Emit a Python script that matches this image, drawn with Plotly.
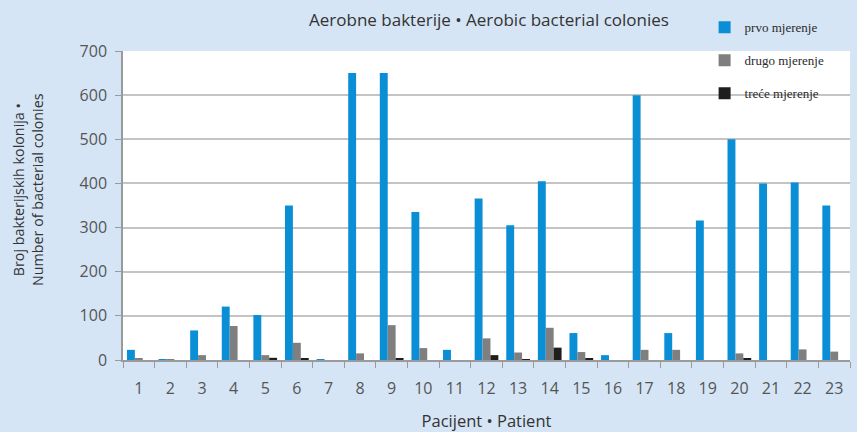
import plotly.graph_objects as go

patients = [str(i) for i in range(1, 24)]
prvo = [23, 2, 67, 121, 102, 350, 2, 650, 650, 335, 23, 366, 305, 405, 61, 11, 600, 61, 316, 500, 400, 402, 350]
drugo = [4, 2, 11, 77, 11, 39, 0, 15, 79, 27, 0, 49, 17, 73, 18, 0, 23, 23, 0, 15, 0, 24, 19]
trece = [0, 0, 0, 0, 5, 3, 0, 0, 4, 0, 0, 11, 2, 28, 4, 0, 0, 0, 0, 3, 0, 0, 0]

series_names = ["prvo mjerenje", "drugo mjerenje", "treće mjerenje"]
colors = ["#0a8ed6", "#7f7f7f", "#1e1e1e"]
y_title = "Broj bakterijskih kolonija •<br>Number of bacterial colonies"

fig = go.Figure()
for i, (name, vals, col) in enumerate(zip(series_names, [prvo, drugo, trece], colors)):
    fig.add_trace(go.Bar(x=patients, y=vals, name=name, marker_color=col,
                         marker_line_width=0, legendgroup=f"g{i}"))

fig.update_layout(
    width=857, height=432,
    margin=dict(l=123, r=7, t=51, b=72, autoexpand=False),
    paper_bgcolor="#d5e5f5",
    plot_bgcolor="#ffffff",
    barmode="group",
    bargap=0.25,
    bargroupgap=0,
    font=dict(family="Open Sans, sans-serif", size=14, color="#333333"),
    title=dict(text="Aerobne bakterije • Aerobic bacterial colonies", x=0.5706, xanchor="center",
               y=0.953, yanchor="middle", font=dict(size=17, color="#333333")),
    legend=dict(x=0.80, xanchor="left", y=1.125, yanchor="top",
                bgcolor="rgba(0,0,0,0)", tracegroupgap=13, itemwidth=30,
                font=dict(family="Liberation Serif, serif", size=13, color="#2a2a2a")),
    showlegend=True,
    annotations=[dict(text=y_title, xref="paper", yref="paper", x=-0.13, y=0.552,
                      xanchor="center", yanchor="middle", textangle=-90, showarrow=False,
                      font=dict(size=14.3, color="#333333"))],
)
fig.update_xaxes(type="category", tickson="boundaries", ticks="outside", ticklen=6,
                 tickcolor="#9a9a9a", showline=True, linecolor="#9a9a9a", linewidth=1.5,
                 showgrid=False, tickfont=dict(size=16, color="#555555"), ticklabelstandoff=13,
                 automargin=False,
                 title=dict(text="Pacijent • Patient", standoff=20, font=dict(size=16.5, color="#333333")))
fig.update_yaxes(range=[0, 700], dtick=100, ticks="outside", ticklen=6, tickcolor="#9a9a9a",
                 showline=True, linecolor="#9a9a9a", linewidth=1.5,
                 gridcolor="#c4c4c4", gridwidth=1.5, zeroline=False,
                 tickfont=dict(size=16, color="#555555"), ticklabelstandoff=5,
                 automargin=False)

fig.write_html("out.html", config={"displayModeBar": False})
with open("out.html", encoding="utf-8") as f:
    html = f.read()
html = html.replace("<body>", '<body style="margin:0;padding:0;overflow:hidden">', 1)
with open("out.html", "w", encoding="utf-8") as f:
    f.write(html)
